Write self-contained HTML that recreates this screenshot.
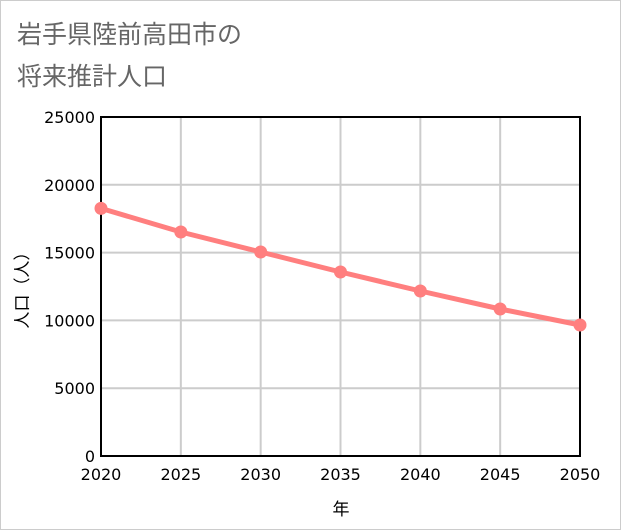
<!DOCTYPE html>
<html><head><meta charset="utf-8"><style>
html,body{margin:0;padding:0;background:#fff}
#wrap{position:relative;width:619px;height:528px;border:1px solid #ccc;background:#fff}
svg{position:absolute;left:0;top:0}
</style></head><body>
<div id="wrap">
<svg id="chart" width="621" height="530" style="left:-1px;top:-1px">
<text x="17" y="43" font-size="25" fill="#666" font-family="'Liberation Sans','Noto Sans CJK JP',sans-serif">岩手県陸前高田市の</text>
<text x="17" y="85" font-size="25" fill="#666" font-family="'Liberation Sans','Noto Sans CJK JP',sans-serif">将来推計人口</text>
<g id="grid"></g><g id="axes"></g><g id="series"></g>
<text x="341" y="515" font-size="17" text-anchor="middle" fill="#000" font-family="'Liberation Sans','Noto Sans CJK JP',sans-serif">年</text>
<text transform="translate(28,286) rotate(-90)" font-size="17" text-anchor="middle" fill="#000" font-family="'Liberation Sans','Noto Sans CJK JP',sans-serif">人口（人）</text>
</svg></div>
<script>
const years=[2020,2025,2030,2035,2040,2045,2050];
const population=[18262,16519,15044,13569,12168,10841,9660];
const yTicks=[0,5000,10000,15000,20000,25000];
const L=101,R=580,T=117,B=456;
const xs=v=>L+(v-2020)/30*(R-L);
const ys=v=>B-v/25000*(B-T);
const NS='http://www.w3.org/2000/svg';
function mk(t,a,p){const e=document.createElementNS(NS,t);for(const k in a)e.setAttribute(k,a[k]);p.appendChild(e);return e;}
const grid=document.getElementById('grid'),axes=document.getElementById('axes'),ser=document.getElementById('series');
const font="'DejaVu Sans','Liberation Sans','Noto Sans CJK JP',sans-serif";
years.forEach(y=>{
 const l=mk('line',{x1:xs(y),x2:xs(y),y1:T,y2:B,stroke:'#ccc','stroke-width':2},grid);
 
 
 const t=mk('text',{x:xs(y),y:480,'font-size':16,'text-anchor':'middle','font-family':font},axes);
 t.textContent=y;
 
 
});
yTicks.forEach(v=>{
 const l=mk('line',{x1:L,x2:R,y1:ys(v),y2:ys(v),stroke:'#ccc','stroke-width':2},grid);
 
 
 const t=mk('text',{x:95,y:ys(v)+6,'font-size':16,'text-anchor':'end','font-family':font},axes);
 t.textContent=v;
 
 
});
const box=mk('rect',{x:L,y:T,width:R-L,height:B-T,fill:'none',stroke:'#000','stroke-width':2},axes);


const pl=mk('polyline',{points:years.map((y,i)=>xs(y)+','+ys(population[i])).join(' '),fill:'none',stroke:'#ff7f7f','stroke-width':5},ser);


years.forEach((y,i)=>{
 const c=mk('circle',{cx:xs(y),cy:ys(population[i]),r:6.5,fill:'#ff7f7f'},ser);
 
 
});
</script>
</body></html>
